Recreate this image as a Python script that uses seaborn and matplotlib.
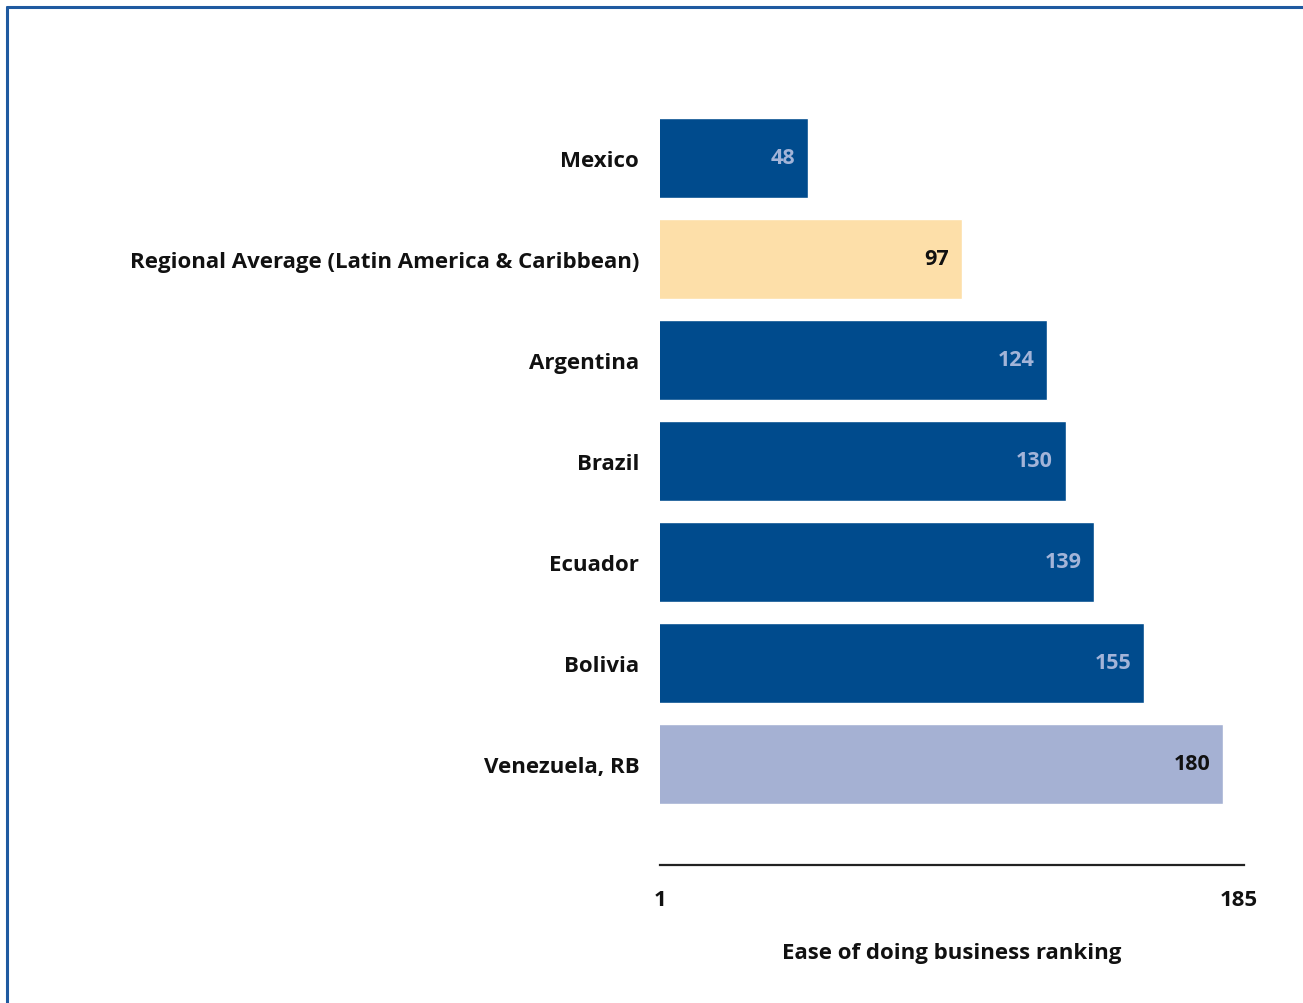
import matplotlib
matplotlib.use("Agg")
import matplotlib.pyplot as plt
import seaborn as sns
from matplotlib.lines import Line2D

# data
countries = ["Mexico", "Regional Average (Latin America & Caribbean)", "Argentina",
             "Brazil", "Ecuador", "Bolivia", "Venezuela, RB"]
ranking = [48, 97, 124, 130, 139, 155, 180]
bar_colors = ["#004B8D", "#FDDFA9", "#004B8D", "#004B8D", "#004B8D", "#004B8D", "#A5B1D3"]
label_colors = ["#A3B4D8", "#111111", "#A3B4D8", "#A3B4D8", "#A3B4D8", "#A3B4D8", "#111111"]
x_ticks = [1, 185]
x_title = "Ease of doing business ranking"

sns.set_style("white")
plt.rcParams["font.family"] = ["Open Sans", "DejaVu Sans"]
fs = 16

fig = plt.figure(figsize=(13.03, 10.04), dpi=100)
ax = fig.add_axes([660 / 1303, 1 - 866 / 1004, 584 / 1303, 766 / 1004])

sns.barplot(x=ranking, y=countries, hue=countries, palette=bar_colors,
            legend=False, orient="h", width=0.79, saturation=1, ax=ax)

ax.set_xlim(1, 186.7)
ax.set_ylim(7, -0.584)

# value labels inside bar ends
for i, (v, c) in enumerate(zip(ranking, label_colors)):
    ax.text(v - 4.0, i, str(v), ha="right", va="center", fontsize=15.5,
            fontweight="bold", color=c)

ax.set_xticks(x_ticks)
ax.set_xticklabels([str(t) for t in x_ticks], fontsize=fs, fontweight="bold", color="#111111")
ax.tick_params(axis="x", length=0, pad=17)
ax.tick_params(axis="y", length=0, pad=15)
for lab in ax.get_yticklabels():
    lab.set_fontsize(fs)
    lab.set_fontweight("bold")
    lab.set_color("#111111")
ax.set_xlabel(x_title, fontsize=fs, fontweight="bold", color="#111111", labelpad=23)
ax.set_ylabel("")

for s in ["top", "right", "left"]:
    ax.spines[s].set_visible(False)
ax.spines["bottom"].set_color("#222222")
ax.spines["bottom"].set_linewidth(1.6)

# frame border at top and left
fig.add_artist(Line2D([7 / 1303, 1.0], [1 - 8 / 1004, 1 - 8 / 1004], color="#1F5AA0", lw=2.2))
fig.add_artist(Line2D([7 / 1303, 7 / 1303], [0.0, 1 - 8 / 1004], color="#1F5AA0", lw=2.2))

fig.savefig("out.png", dpi=100)
